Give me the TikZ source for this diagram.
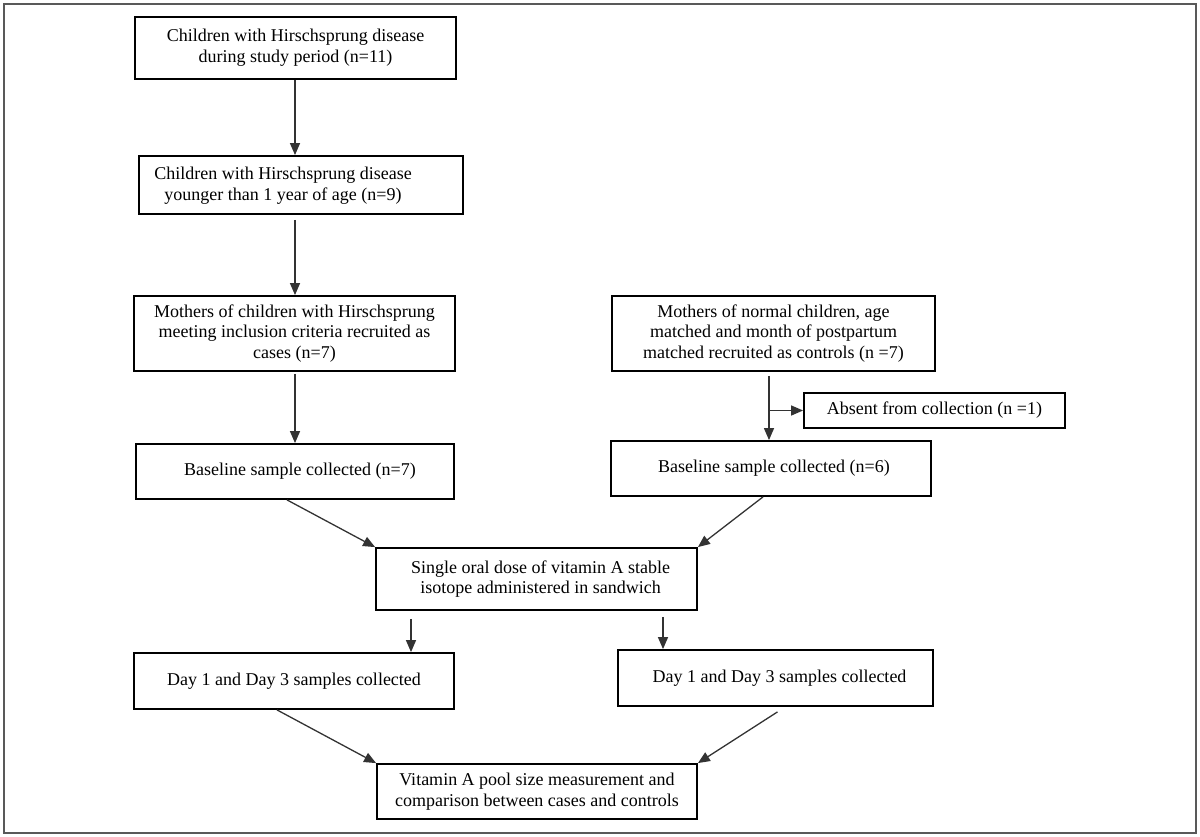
\documentclass[tikz,border=0pt]{standalone}
\usepackage{fontspec}
\setmainfont{Liberation Serif}
\usetikzlibrary{arrows.meta,calc}
\begin{document}
\begin{tikzpicture}[x=1pt,y=-1pt,
  txt/.style={inner sep=0pt, align=center, font=\fontsize{18}{20.8}\selectfont},
  box/.style={txt, draw=black, line width=1.8pt},
  arr/.style={draw=black!80, line width=1.3pt, -{Triangle[length=12pt,width=10pt]}},
  frame/.style={draw=black!65, line width=2pt}]
\useasboundingbox (0,0) rectangle (1200,837);
\draw[frame] (4,4) rectangle (1196,833);

\node[box, minimum width=321pt, minimum height=62pt] (b1) at (295.5,48)
  {Children with Hirschsprung disease\\during study period (n=11)};
\node[box, minimum width=324pt, minimum height=58pt] (b2) at (301,185) {};
\node[txt] (t2) at (283,186) {Children with Hirschsprung disease\\younger than 1 year of age (n=9)};
\node[box, minimum width=321pt, minimum height=75pt] (b3) at (294.5,333.5)
  {Mothers of children with Hirschsprung\\meeting inclusion criteria recruited as\\cases (n=7)};
\node[box, minimum width=323pt, minimum height=75pt] (b4) at (773.5,333.5)
  {Mothers of normal children, age\\matched and month of postpartum\\matched recruited as controls (n =7)};
\node[box, minimum width=261pt, minimum height=35pt] (b5) at (934.5,410.5)
  {Absent from collection (n =1)};
\node[box, minimum width=318pt, minimum height=55pt] (b6) at (295,471.5)
  {\hspace*{10pt}Baseline sample collected (n=7)};
\node[box, minimum width=320pt, minimum height=55pt] (b7) at (771,468.5)
  {\hspace*{6pt}Baseline sample collected (n=6)};
\node[box, minimum width=321pt, minimum height=62pt] (b8) at (536.5,579)
  {\hspace*{8pt}Single oral dose of vitamin A stable\\\hspace*{8pt}isotope administered in sandwich};
\node[box, minimum width=320pt, minimum height=56pt] (b9) at (294,681)
  {Day 1 and Day 3 samples collected};
\node[box, minimum width=315pt, minimum height=56pt] (b10) at (775.5,678)
  {\hspace*{8pt}Day 1 and Day 3 samples collected};
\node[box, minimum width=320pt, minimum height=55pt] (b11) at (537,791.5)
  {Vitamin A pool size measurement and\\comparison between cases and controls};

\coordinate (cL) at (295,0);
\coordinate (cR) at (769,0);
\coordinate (c9) at (411,0);
\coordinate (c10) at (663,0);

\draw[arr] (b1.south -| cL) -- (b2.north -| cL);
\draw[arr] ([yshift=-5pt]b2.south -| cL) -- (b3.north -| cL);
\draw[arr] ([yshift=-2pt]b3.south -| cL) -- (b6.north -| cL);
\draw[arr] ([yshift=-4pt]b4.south -| cR) -- (b7.north -| cR);
\draw[arr] (cR |- b5.west) -- (b5.west);
\draw[arr] ([xshift=-8pt]b6.south) -- (b8.north west);
\draw[arr] ([xshift=-8pt]b7.south) -- (b8.north east);
\draw[arr] ([yshift=-8pt]b8.south -| c9) -- (b9.north -| c9);
\draw[arr] ([yshift=-6pt]b8.south -| c10) -- (b10.north -| c10);
\draw[arr] ([xshift=-17pt]b9.south) -- (b11.north west);
\draw[arr] ([xshift=2pt,yshift=-5pt]b10.south) -- (b11.north east);
\end{tikzpicture}
\end{document}
